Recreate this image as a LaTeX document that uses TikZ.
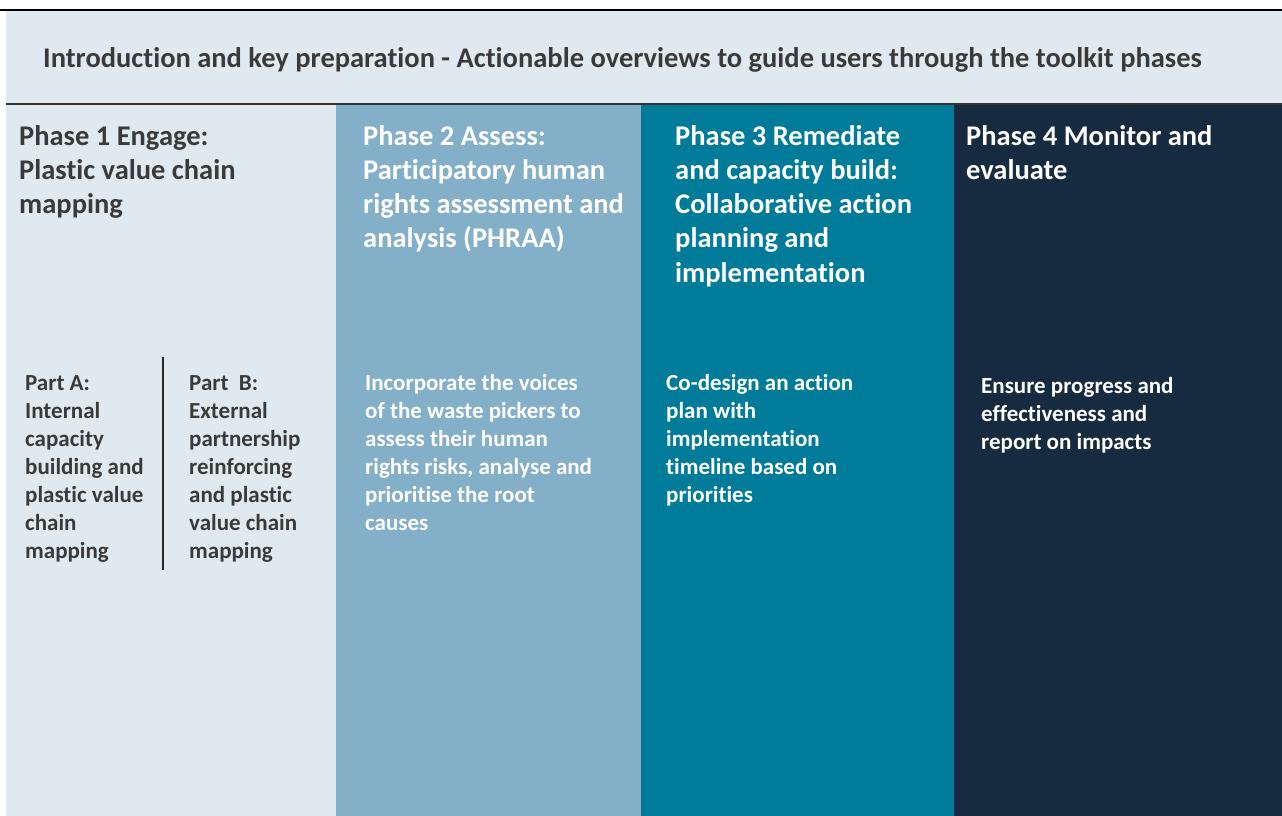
\documentclass[tikz,border=0pt]{standalone}
\usepackage{fontspec}
\setmainfont[Ligatures=NoCommon]{Carlito}
\definecolor{bglight}{HTML}{E1E9F0}
\definecolor{coltwo}{HTML}{84AFC8}
\definecolor{colthree}{HTML}{007B9A}
\definecolor{colfour}{HTML}{172B40}
\definecolor{darktext}{HTML}{3A3A3A}
\begin{document}
\begin{tikzpicture}[x=1pt,y=-1pt,
  hdr/.style={anchor=base west,inner sep=0pt,font=\bfseries\fontsize{28.5}{34}\selectfont,text=darktext},
  ttl/.style={anchor=base west,inner sep=0pt,align=left,font=\bfseries\fontsize{28.5}{34.3}\selectfont},
  bdy/.style={anchor=base west,inner sep=0pt,align=left,font=\bfseries\fontsize{23}{28}\selectfont}]
\useasboundingbox (0,0) rectangle (1282,816);
\fill[white] (0,0) rectangle (1282,816);
% header band
\fill[bglight] (6,10) rectangle (1282,104);
% columns
\fill[bglight] (6,104) rectangle (336,816);
\fill[coltwo] (336,104) rectangle (641,816);
\fill[colthree] (641,104) rectangle (954,816);
\fill[colfour] (954,104) rectangle (1282,816);
\draw[black,line width=1.5pt] (0,10) -- (1282,10);
\draw[black!80,line width=1.5pt] (6,104) -- (1282,104);
% header text (base anchor = baseline of last line)
\node[hdr] (header) at (43,67) {Introduction and key preparation - Actionable overviews to guide users through the toolkit phases};
% titles: first baseline 145, skip 34.3
\node[ttl,text=darktext] (t1) at (19,213.6) {Phase 1 Engage:\\Plastic value chain\\mapping};
\node[ttl,text=white] (t2) at (363,247.9) {Phase 2 Assess:\\Participatory human\\rights assessment and\\analysis (PHRAA)};
\node[ttl,text=white] (t3) at (675,282.2) {Phase 3 Remediate\\and capacity build:\\Collaborative action\\planning and\\implementation};
\node[ttl,text=white] (t4) at (966,179.3) {Phase 4 Monitor and\\evaluate};
% bodies: first baseline 390, skip 28
\node[bdy,text=darktext] (pa) at (25,558) {Part A:\\Internal\\capacity\\building and\\plastic value\\chain\\mapping};
\node[bdy,text=darktext] (pb) at (189,558) {Part\ \ B:\\External\\partnership\\reinforcing\\and plastic\\value chain\\mapping};
\coordinate (dtop) at (163,357);
\coordinate (dbot) at (163,570);
\draw[black!85,line width=1.2pt] (dtop) -- (dbot);
\node[bdy,text=white] (b2) at (365,530) {Incorporate the voices\\of the waste pickers to\\assess their human\\rights risks, analyse and\\prioritise the root\\causes};
\node[bdy,text=white] (b3) at (666,502) {Co-design an action\\plan with\\implementation\\timeline based on\\priorities};
\node[bdy,text=white] (b4) at (981,449) {Ensure progress and\\effectiveness and\\report on impacts};
\end{tikzpicture}
\end{document}
